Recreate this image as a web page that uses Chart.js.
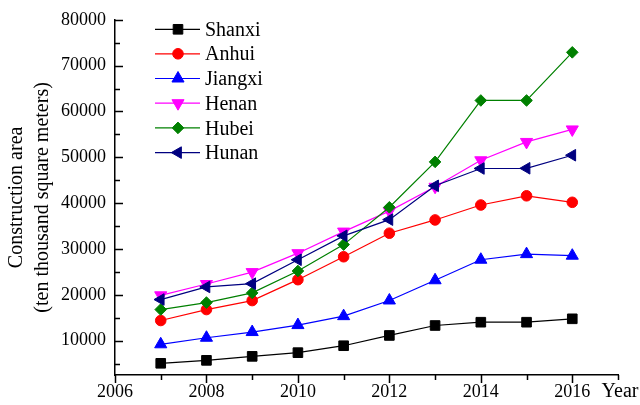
<!DOCTYPE html>
<html>
<head>
<meta charset="utf-8">
<script src="https://cdn.jsdelivr.net/npm/chart.js@4/dist/chart.umd.min.js"></script>
<style>
  html, body { margin: 0; padding: 0; background: #fff; }
  #wrap { width: 640px; height: 405px; }
</style>
</head>
<body>
<div id="wrap"><canvas id="c" width="640" height="405"></canvas></div>
<script>
// Construction area by province, 2007-2016 (ten thousand square meters)
const years = [2007, 2008, 2009, 2010, 2011, 2012, 2013, 2014, 2015, 2016];
const shanxi  = [5050, 5700, 6570, 7370, 8890, 11130, 13300, 14020, 14020, 14760];
const anhui   = [14390, 16780, 18740, 23300, 28300, 33440, 36330, 39590, 41600, 40180];
const jiangxi = [9200, 10630, 11870, 13390, 15340, 18760, 23170, 27650, 28870, 28530];
const henan   = [19890, 22350, 24950, 29080, 33790, 38250, 43570, 49350, 53350, 56080];
const hubei   = [16780, 18300, 20410, 25190, 30950, 39090, 49000, 62400, 62400, 72900];
const hunan   = [18960, 21710, 22430, 27640, 32860, 36400, 43780, 47560, 47600, 50450];

const seriesNames = ['Shanxi', 'Anhui', 'Jiangxi', 'Henan', 'Hubei', 'Hunan'];
const xTickValues = [2006, 2008, 2010, 2012, 2014, 2016];
const yTickValues = [10000, 20000, 30000, 40000, 50000, 60000, 70000, 80000];
const xAxisName = 'Year';
const yAxisTitle = ['Construction area', '(ten thousand square meters)'];

const serif = '"Liberation Serif", "Times New Roman", "DejaVu Serif", serif';

const styles = [
  { color: '#000000', pointStyle: 'rect',     radius: 6.8, rotation: 0 },
  { color: '#ff0000', pointStyle: 'circle',   radius: 5.3, rotation: 0 },
  { color: '#0000ff', pointStyle: 'triangle', radius: 7,   rotation: 0 },
  { color: '#ff00ff', pointStyle: 'triangle', radius: 7,   rotation: 180 },
  { color: '#008000', pointStyle: 'rectRot',  radius: 5.8, rotation: 0 },
  { color: '#000080', pointStyle: 'triangle', radius: 6.7, rotation: -90 }
];
const values = [shanxi, anhui, jiangxi, henan, hubei, hunan];

const datasets = values.map((vals, i) => ({
  label: seriesNames[i],
  data: years.map((yr, j) => ({ x: yr, y: vals[j] })),
  borderColor: styles[i].color,
  backgroundColor: styles[i].color,
  borderWidth: 1.2,
  pointStyle: styles[i].pointStyle,
  pointRadius: styles[i].radius,
  pointRotation: styles[i].rotation,
  pointBackgroundColor: styles[i].color,
  pointBorderColor: styles[i].color,
  pointBorderWidth: 1,
  tension: 0,
  order: values.length - i   // later series drawn on top
}));

// Tick marks (major + minor), the x-axis name and the in-plot legend
const decorations = {
  id: 'decorations',
  afterDraw(chart) {
    const ctx = chart.ctx;
    const ax = chart.scales.x, ay = chart.scales.y;
    ctx.save();
    ctx.strokeStyle = '#000';
    ctx.lineWidth = 1.5;
    ctx.beginPath();
    for (let yr = 2006; yr <= 2017; yr++) {
      const px = Math.round(ax.getPixelForValue(yr)) + 0.5;
      const len = (yr % 2 === 0) ? 8 : 5;
      ctx.moveTo(px, ay.bottom);
      ctx.lineTo(px, ay.bottom + len);
    }
    for (let v = 5000; v <= 80000; v += 5000) {
      if (v < ay.min) continue;
      const py = Math.round(ay.getPixelForValue(v)) + 0.5;
      const len = (v % 10000 === 0) ? 8 : 5;
      ctx.moveTo(ax.left, py);
      ctx.lineTo(ax.left + len, py);
    }
    ctx.stroke();

    // x-axis name at the end of the axis
    ctx.fillStyle = '#000';
    ctx.font = '20px ' + serif;
    ctx.textAlign = 'center';
    ctx.textBaseline = 'alphabetic';
    ctx.fillText(xAxisName, ax.getPixelForValue(2017) + 2, 397);

    // legend
    const x0 = 155, x1 = 200, xm = 178, xt = 205;
    const rowY = [29.3, 53.8, 78.5, 103.2, 127.9, 152.6];
    ctx.textAlign = 'left';
    seriesNames.forEach((name, i) => {
      const st = styles[i];
      const y = rowY[i];
      ctx.strokeStyle = st.color;
      ctx.lineWidth = 1.2;
      ctx.beginPath();
      ctx.moveTo(x0, y);
      ctx.lineTo(x1, y);
      ctx.stroke();
      ctx.fillStyle = st.color;
      ctx.strokeStyle = st.color;
      ctx.lineWidth = 1;
      Chart.helpers.drawPoint(ctx, {
        pointStyle: st.pointStyle,
        radius: st.radius,
        rotation: st.rotation,
        borderWidth: 1
      }, xm, y);
      ctx.fillStyle = '#000';
      ctx.fillText(name, xt, y + 6.6);
    });
    ctx.restore();
  }
};

new Chart(document.getElementById('c'), {
  type: 'line',
  data: { datasets },
  options: {
    responsive: false,
    animation: false,
    events: [],
    layout: { padding: { left: 0, right: 22, top: 19, bottom: 0 } },
    plugins: { legend: { display: false }, tooltip: { enabled: false } },
    scales: {
      x: {
        type: 'linear',
        min: 2006,
        max: 2017,
        afterBuildTicks(scale) { scale.ticks = xTickValues.map(v => ({ value: v })); },
        afterFit(scale) { scale.height = 30; },
        grid: { display: false, drawTicks: false },
        border: { display: true, color: '#000', width: 1.5 },
        ticks: {
          autoSkip: false,
          maxRotation: 0,
          padding: 6,
          color: '#000',
          font: { family: serif, size: 18 },
          callback: (v) => String(v)
        }
      },
      y: {
        type: 'linear',
        min: 2500,
        max: 80000,
        afterBuildTicks(scale) { scale.ticks = yTickValues.map(v => ({ value: v })); },
        afterFit(scale) { scale.width = 115; },
        grid: { display: false, drawTicks: false },
        border: { display: true, color: '#000', width: 1.5 },
        ticks: {
          padding: 9,
          color: '#000',
          font: { family: serif, size: 18 },
          callback: (v) => String(v)
        },
        title: {
          display: true,
          text: yAxisTitle,
          color: '#000',
          font: { family: serif, size: 20, lineHeight: 1.3 },
          padding: { top: 4, bottom: 0 }
        }
      }
    }
  },
  plugins: [decorations]
});
</script>
</body>
</html>
